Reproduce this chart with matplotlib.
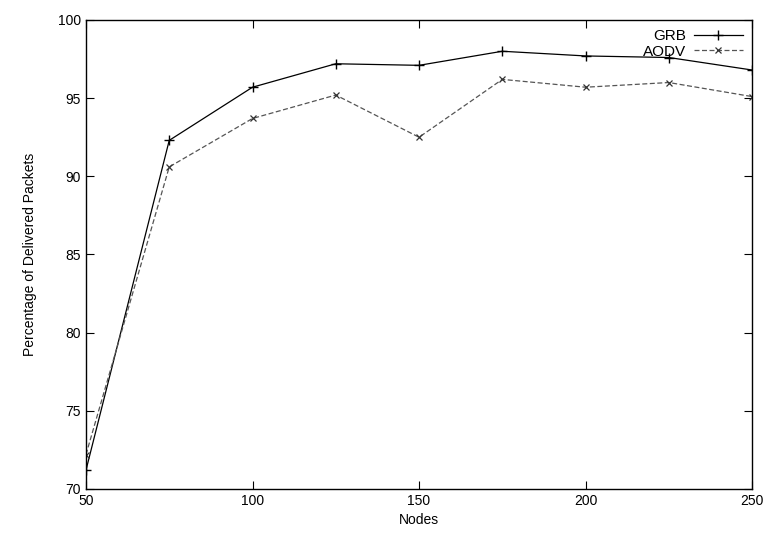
import matplotlib.pyplot as plt

nodes = [50, 75, 100, 125, 150, 175, 200, 225, 250]
grb = [71.2, 92.3, 95.7, 97.2, 97.1, 98.0, 97.7, 97.6, 96.8]
aodv = [72.2, 90.6, 93.7, 95.2, 92.5, 96.2, 95.7, 96.0, 95.1]

plt.rcParams['font.family'] = ['Liberation Sans', 'DejaVu Sans']
plt.rcParams['font.size'] = 10

fig = plt.figure(figsize=(7.71, 5.36), dpi=100)
ax = fig.add_axes([0.1115, 0.0877, 0.8640, 0.8750])

ax.plot(nodes, grb, color="black", linewidth=0.9, marker="+", markersize=7,
        markeredgewidth=1.0, label="GRB")
ax.plot(nodes, aodv, color="#555555", linewidth=0.9, linestyle=(0, (4, 2)),
        marker="x", markersize=5, markeredgewidth=0.9, markeredgecolor="#333333",
        label="AODV")

ax.set_xlim(50, 250)
ax.set_ylim(70, 100)
ax.set_xticks(range(50, 251, 50))
ax.set_yticks(range(70, 101, 5))
ax.tick_params(direction="in", top=True, right=True, length=6, width=0.8)
for s in ax.spines.values():
    s.set_linewidth(1.0)

ax.set_xlabel("Nodes")
ax.set_ylabel("Percentage of Delivered Packets", labelpad=15)

ax.legend(loc="upper right", frameon=False, markerfirst=False, handlelength=3.2,
          borderaxespad=0.2, labelspacing=0.1, fontsize=11, handletextpad=0.5)

fig.savefig("out.png", dpi=100)
